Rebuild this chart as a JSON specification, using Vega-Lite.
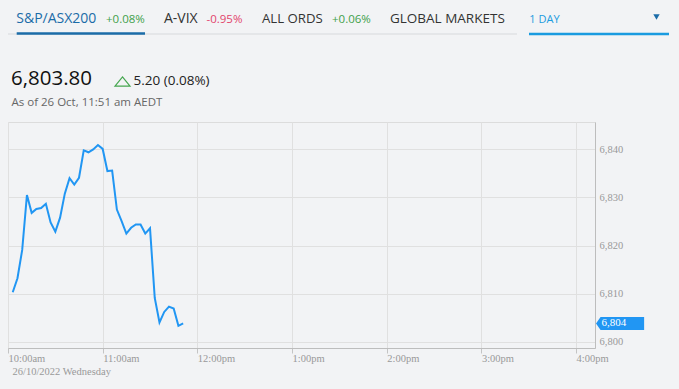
{
  "$schema": "https://vega.github.io/schema/vega-lite/v6.json",
  "autosize": {"type": "none"},
  "padding": {"left": 8, "top": 122, "right": 84, "bottom": 41},
  "width": 587,
  "height": 226,
  "background": "#f2f3f5",
  "config": {"view": {"stroke": "#dcdcdc"}},
  "data": {"values": [
    {"time": "2022-10-26T10:03:00", "value": 6810.3},
    {"time": "2022-10-26T10:06:00", "value": 6813.2},
    {"time": "2022-10-26T10:09:00", "value": 6819.1},
    {"time": "2022-10-26T10:12:00", "value": 6830.5},
    {"time": "2022-10-26T10:15:00", "value": 6826.8},
    {"time": "2022-10-26T10:18:00", "value": 6827.6},
    {"time": "2022-10-26T10:21:00", "value": 6827.8},
    {"time": "2022-10-26T10:24:00", "value": 6828.7},
    {"time": "2022-10-26T10:27:00", "value": 6824.8},
    {"time": "2022-10-26T10:30:00", "value": 6822.9},
    {"time": "2022-10-26T10:33:00", "value": 6825.8},
    {"time": "2022-10-26T10:36:00", "value": 6830.8},
    {"time": "2022-10-26T10:39:00", "value": 6834.0},
    {"time": "2022-10-26T10:42:00", "value": 6832.7},
    {"time": "2022-10-26T10:45:00", "value": 6834.1},
    {"time": "2022-10-26T10:48:00", "value": 6839.8},
    {"time": "2022-10-26T10:51:00", "value": 6839.4},
    {"time": "2022-10-26T10:54:00", "value": 6840.0},
    {"time": "2022-10-26T10:57:00", "value": 6840.9},
    {"time": "2022-10-26T11:00:00", "value": 6840.1},
    {"time": "2022-10-26T11:03:00", "value": 6835.5},
    {"time": "2022-10-26T11:06:00", "value": 6835.6},
    {"time": "2022-10-26T11:09:00", "value": 6827.5},
    {"time": "2022-10-26T11:12:00", "value": 6825.1},
    {"time": "2022-10-26T11:15:00", "value": 6822.5},
    {"time": "2022-10-26T11:18:00", "value": 6823.7},
    {"time": "2022-10-26T11:21:00", "value": 6824.4},
    {"time": "2022-10-26T11:24:00", "value": 6824.4},
    {"time": "2022-10-26T11:27:00", "value": 6822.5},
    {"time": "2022-10-26T11:30:00", "value": 6823.6},
    {"time": "2022-10-26T11:33:00", "value": 6809.1},
    {"time": "2022-10-26T11:36:00", "value": 6804.0},
    {"time": "2022-10-26T11:39:00", "value": 6806.2},
    {"time": "2022-10-26T11:42:00", "value": 6807.3},
    {"time": "2022-10-26T11:45:00", "value": 6806.9},
    {"time": "2022-10-26T11:48:00", "value": 6803.3},
    {"time": "2022-10-26T11:51:00", "value": 6803.8}
  ]},
  "layer": [
    {
      "mark": {"type": "line", "color": "#2196f3", "strokeWidth": 2},
      "encoding": {
        "x": {
          "field": "time", "type": "temporal",
          "scale": {"domain": [
            {"year": 2022, "month": 10, "date": 26, "hours": 10, "minutes": 0},
            {"year": 2022, "month": 10, "date": 26, "hours": 16, "minutes": 12}
          ]},
          "axis": {
            "values": [
              {"year": 2022, "month": 10, "date": 26, "hours": 10},
              {"year": 2022, "month": 10, "date": 26, "hours": 11},
              {"year": 2022, "month": 10, "date": 26, "hours": 12},
              {"year": 2022, "month": 10, "date": 26, "hours": 13},
              {"year": 2022, "month": 10, "date": 26, "hours": 14},
              {"year": 2022, "month": 10, "date": 26, "hours": 15},
              {"year": 2022, "month": 10, "date": 26, "hours": 16}
            ],
            "labelExpr": "lower(timeFormat(datum.value, '%-I:%M%p'))",
            "labelAlign": "left", "labelDx": 4, "labelBaseline": "top",
            "labelFont": "Liberation Serif", "labelFontSize": 10.5, "labelColor": "#999999",
            "labelPadding": 0, "labelFlush": false, "labelOverlap": false,
            "tickColor": "#c4c4c4", "tickSize": 5,
            "domainColor": "#bdbdbd",
            "gridColor": "#e0e0e0",
            "title": "26/10/2022 Wednesday",
            "titleFont": "Liberation Serif", "titleFontWeight": "normal", "titleFontSize": 10.5,
            "titleColor": "#999999", "titleAnchor": "start", "titleAlign": "left",
            "titleX": 4, "titleY": 23, "titleBaseline": "middle"
          }
        },
        "y": {
          "field": "value", "type": "quantitative",
          "scale": {"domain": [6798.7, 6845.7], "nice": false, "zero": false},
          "axis": {
            "orient": "right", "values": [6800, 6810, 6820, 6830, 6840], "format": ",d",
            "ticks": false, "labelPadding": 4,
            "labelFont": "Liberation Serif", "labelFontSize": 10.5, "labelColor": "#999999",
            "domainColor": "#bdbdbd", "gridColor": "#e0e0e0", "title": null
          }
        }
      }
    },
    {
      "transform": [
        {"joinaggregate": [{"op": "max", "field": "time", "as": "tmax"}]},
        {"filter": "toNumber(datum.time) == toNumber(datum.tmax)"}
      ],
      "mark": {"type": "point", "shape": "M0,0L0.7,-1L7.4,-1L7.4,1L0.7,1Z", "size": 169, "filled": true, "fill": "#2196f3", "opacity": 1, "strokeWidth": 0},
      "encoding": {"x": {"value": 588}, "y": {"field": "value", "type": "quantitative"}}
    },
    {
      "transform": [
        {"joinaggregate": [{"op": "max", "field": "time", "as": "tmax"}]},
        {"filter": "toNumber(datum.time) == toNumber(datum.tmax)"}
      ],
      "mark": {"type": "text", "align": "left", "baseline": "middle", "font": "Liberation Serif", "fontSize": 11, "color": "#ffffff"},
      "encoding": {"x": {"value": 593.5}, "y": {"field": "value", "type": "quantitative"}, "text": {"field": "value", "type": "quantitative", "format": ",.0f"}}
    },
    {"data": {"values": [{}]}, "mark": {"type": "rule", "color": "#d7d9dc", "strokeWidth": 1}, "encoding": {"x": {"value": 0}, "x2": {"value": 509}, "y": {"value": -88}}},
    {"data": {"values": [{}]}, "mark": {"type": "rule", "color": "#1b6ca8", "strokeWidth": 2.5}, "encoding": {"x": {"value": 8.7}, "x2": {"value": 137}, "y": {"value": -88.5}}},
    {"data": {"values": [{}]}, "mark": {"type": "rule", "color": "#1a9be0", "strokeWidth": 2.5}, "encoding": {"x": {"value": 521}, "x2": {"value": 661}, "y": {"value": -88}}},
    {"data": {"values": [{}]}, "mark": {"type": "text", "text": "S&P/ASX200", "font": "Open Sans", "fontSize": 14, "fontWeight": 500, "color": "#1b6ca8", "align": "left", "baseline": "alphabetic"}, "encoding": {"x": {"value": 8.3}, "y": {"value": -99.3}}},
    {"data": {"values": [{}]}, "mark": {"type": "text", "text": "+0.08%", "font": "Open Sans", "fontSize": 11.5, "color": "#3f9f4a", "align": "left", "baseline": "alphabetic"}, "encoding": {"x": {"value": 98}, "y": {"value": -99.3}}},
    {"data": {"values": [{}]}, "mark": {"type": "text", "text": "A-VIX", "font": "Open Sans", "fontSize": 14, "color": "#333333", "align": "left", "baseline": "alphabetic"}, "encoding": {"x": {"value": 156}, "y": {"value": -99.3}}},
    {"data": {"values": [{}]}, "mark": {"type": "text", "text": "-0.95%", "font": "Open Sans", "fontSize": 11.5, "color": "#e2446c", "align": "left", "baseline": "alphabetic"}, "encoding": {"x": {"value": 198.5}, "y": {"value": -99.3}}},
    {"data": {"values": [{}]}, "mark": {"type": "text", "text": "ALL ORDS", "font": "Open Sans", "fontSize": 13.2, "color": "#333333", "align": "left", "baseline": "alphabetic"}, "encoding": {"x": {"value": 254}, "y": {"value": -99.3}}},
    {"data": {"values": [{}]}, "mark": {"type": "text", "text": "+0.06%", "font": "Open Sans", "fontSize": 11.5, "color": "#3f9f4a", "align": "left", "baseline": "alphabetic"}, "encoding": {"x": {"value": 324}, "y": {"value": -99.3}}},
    {"data": {"values": [{}]}, "mark": {"type": "text", "text": "GLOBAL MARKETS", "font": "Open Sans", "fontSize": 13.5, "color": "#333333", "align": "left", "baseline": "alphabetic"}, "encoding": {"x": {"value": 382}, "y": {"value": -99}}},
    {"data": {"values": [{}]}, "mark": {"type": "text", "text": "1 DAY", "font": "Open Sans", "fontSize": 11, "color": "#1d9ce0", "align": "left", "baseline": "alphabetic"}, "encoding": {"x": {"value": 521.3}, "y": {"value": -99}}},
    {"data": {"values": [{}]}, "mark": {"type": "point", "shape": "triangle-down", "size": 40, "filled": true, "fill": "#1b6ca8", "opacity": 1, "strokeWidth": 0}, "encoding": {"x": {"value": 648.5}, "y": {"value": -105}}},
    {"data": {"values": [{}]}, "mark": {"type": "text", "text": "6,803.80", "font": "Open Sans", "fontSize": 20.5, "color": "#111111", "align": "left", "baseline": "alphabetic"}, "encoding": {"x": {"value": 3}, "y": {"value": -37}}},
    {"data": {"values": [{}]}, "mark": {"type": "point", "shape": "M0,-0.62L1,0.62L-1,0.62Z", "size": 225, "filled": false, "stroke": "#45a64f", "strokeWidth": 1.2, "opacity": 1}, "encoding": {"x": {"value": 114.5}, "y": {"value": -40.5}}},
    {"data": {"values": [{}]}, "mark": {"type": "text", "text": "5.20 (0.08%)", "font": "Open Sans", "fontSize": 13.5, "color": "#222222", "align": "left", "baseline": "alphabetic"}, "encoding": {"x": {"value": 125.5}, "y": {"value": -37}}},
    {"data": {"values": [{}]}, "mark": {"type": "text", "text": "As of 26 Oct, 11:51 am AEDT", "font": "Open Sans", "fontSize": 11.5, "color": "#666666", "align": "left", "baseline": "alphabetic"}, "encoding": {"x": {"value": 3.5}, "y": {"value": -16}}}
  ]
}
